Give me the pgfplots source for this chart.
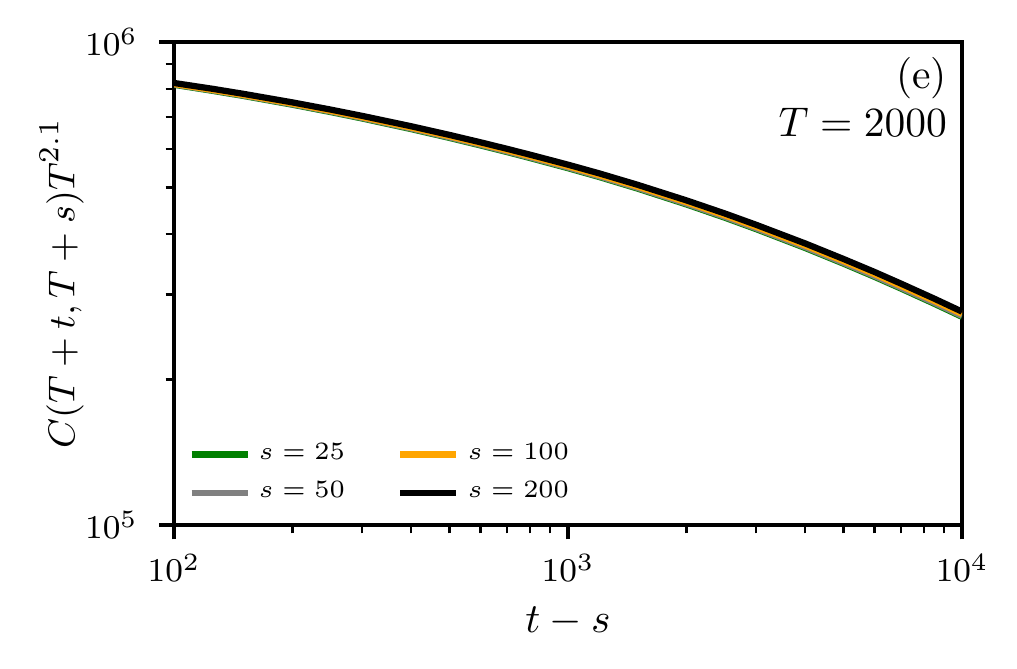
\documentclass[border=0pt]{standalone}
\usepackage{pgfplots}
\pgfplotsset{compat=1.18}

% C(T+t,T+s) T^2.1 vs t-s, T = 2000
\pgfplotstableread{
x      s25      s50      s100     s200
100    8.154e5  8.169e5  8.185e5  8.224e5
125    7.926e5  7.943e5  7.961e5  8.001e5
150    7.733e5  7.750e5  7.770e5  7.811e5
200    7.415e5  7.432e5  7.455e5  7.497e5
250    7.159e5  7.177e5  7.201e5  7.244e5
300    6.945e5  6.963e5  6.989e5  7.032e5
400    6.601e5  6.620e5  6.648e5  6.691e5
500    6.330e5  6.348e5  6.378e5  6.421e5
600    6.106e5  6.125e5  6.155e5  6.198e5
700    5.917e5  5.935e5  5.966e5  6.009e5
800    5.752e5  5.771e5  5.802e5  5.845e5
1000   5.478e5  5.497e5  5.529e5  5.571e5
1200   5.253e5  5.271e5  5.303e5  5.345e5
1500   4.972e5  4.990e5  5.022e5  5.063e5
2000   4.608e5  4.626e5  4.658e5  4.698e5
2500   4.327e5  4.345e5  4.376e5  4.415e5
3000   4.098e5  4.115e5  4.146e5  4.184e5
4000   3.745e5  3.761e5  3.791e5  3.827e5
5000   3.476e5  3.491e5  3.521e5  3.555e5
6000   3.263e5  3.278e5  3.307e5  3.340e5
7000   3.086e5  3.100e5  3.128e5  3.160e5
8500   2.871e5  2.885e5  2.912e5  2.942e5
10000  2.697e5  2.710e5  2.736e5  2.765e5
}\data

\definecolor{mplgreen}{RGB}{0,128,0}
\definecolor{mplgray}{RGB}{128,128,128}
\definecolor{mplorange}{RGB}{255,165,0}

\begin{document}
\begin{tikzpicture}
\useasboundingbox (-41.76bp,-34.32bp) rectangle (202.32bp,126.0bp);
\begin{axis}[
    at={(0,0)}, anchor=south west,
    scale only axis,
    width=189.12bp, height=115.92bp,
    xmode=log, ymode=log,
    xmin=100, xmax=10000,
    ymin=1e5, ymax=1e6,
    xtick={100,1000,10000},
    ytick={1e5,1e6},
    minor xtick={200,300,400,500,600,700,800,900,2000,3000,4000,5000,6000,7000,8000,9000},
    minor ytick={2e5,3e5,4e5,5e5,6e5,7e5,8e5,9e5},
    tick pos=left,
    tick align=outside,
    major tick length=3.5bp,
    minor tick length=2bp,
    every major tick/.style={line width=0.8bp, black},
    every minor tick/.style={line width=0.6bp, black},
    axis line style={line width=0.8bp},
    tick label style={font=\fontsize{8}{9.6}\selectfont},
    yticklabel style={xshift=-1.7bp},
    xlabel={$t-s$},
    ylabel={$C(T+t,T+s)T^{2.1}$},
    xlabel style={font=\fontsize{10}{12}\selectfont,
        at={(rel axis cs:0.5,0)}, anchor=base, yshift=-25.7bp},
    ylabel style={font=\fontsize{9.4}{11}\selectfont,
        at={(rel axis cs:0,0.5)}, anchor=south, inner sep=0pt, yshift=21.5bp},
    legend columns=2,
    transpose legend,
    legend cell align=left,
    legend style={
        at={(rel axis cs:0,0)}, anchor=south west,
        xshift=0.3bp, yshift=0.8bp,
        draw=none, fill=none,
        font=\fontsize{6.2}{7.5}\selectfont,
        /tikz/every even column/.append style={column sep=10.6bp},
        row sep=-0.1bp,
    },
    legend image code/.code={\draw[#1, line cap=butt] (0bp,0bp) -- (13.4bp,0bp);},
    every axis plot/.append style={line width=1.5bp},
]
\addplot[mplgreen]  table[x=x, y=s25]  {\data};
\addlegendentry{$s=25$}
\addplot[mplgray]   table[x=x, y=s50]  {\data};
\addlegendentry{$s=50$}
\addplot[mplorange] table[x=x, y=s100] {\data};
\addlegendentry{$s=100$}
\addplot[black]     table[x=x, y=s200] {\data};
\addlegendentry{$s=200$}

\node[anchor=north east, align=right, font=\fontsize{10}{11.5}\selectfont,
      inner sep=0pt] at (rel axis cs:1,1) [xshift=-3.4bp, yshift=-3.6bp]
      {(e)\\$T=2000$};
\end{axis}
\end{tikzpicture}
\end{document}
